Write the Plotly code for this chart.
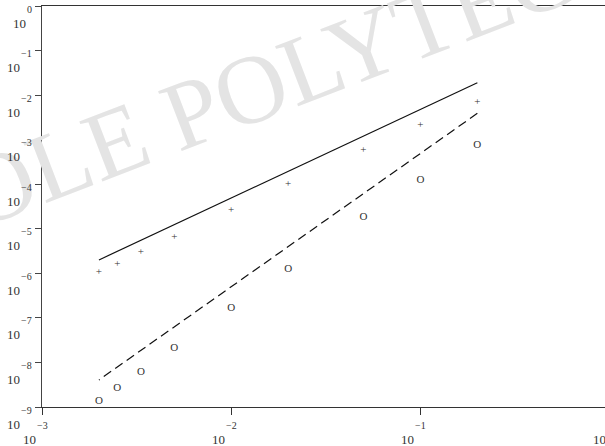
import plotly.graph_objects as go

# ---- data ----
h = [0.002, 0.0025, 1/300, 0.005, 0.01, 0.02, 0.05, 0.1, 0.2]
err_plus = [1.06e-6, 1.6e-6, 2.97e-6, 6.5e-6, 2.64e-5, 9.97e-5, 5.78e-4, 2.13e-3, 6.9e-3]
err_circ = [1.35e-9, 2.67e-9, 6.0e-9, 2.08e-8, 1.64e-7, 1.23e-6, 1.81e-5, 1.23e-4, 7.48e-4]
ref2_x = [0.002, 0.2]
ref2_y = [2.0e-6, 1.9e-2]
ref3_x = [0.2, 0.002]
ref3_y = [3.9e-3, 4.05e-9]
x_exponents = [-3, -2, -1, 0]
y_exponents = [0, -1, -2, -3, -4, -5, -6, -7, -8, -9]
watermark = "ECOLE POLYTECHNIQUE"

W, H = 605, 446
ML, MR, MT, MB = 42, 0, 6, 39
PW = W - ML - MR
PH = H - MT - MB
XDEC = 189.2
xmin = -3
xmax = xmin + PW / XDEC
ymin, ymax = -9, 0

SERIF = "'Liberation Serif', 'Times New Roman', Times, serif"
TXT = "#333333"

def sup(k):
    return ("\u2212" + str(-k)) if k < 0 else str(k)

fig = go.Figure()
fig.add_trace(go.Scatter(x=ref2_x, y=ref2_y, mode="lines",
                         line=dict(color="#111111", width=1.2), hoverinfo="skip"))
fig.add_trace(go.Scatter(x=ref3_x, y=ref3_y, mode="lines",
                         line=dict(color="#111111", width=1.2, dash="9px,5px"), hoverinfo="skip"))
fig.add_trace(go.Scatter(x=h, y=err_plus, mode="text", text=["+"] * len(h),
                         textposition="middle center",
                         textfont=dict(family=SERIF, size=11, color=TXT), hoverinfo="skip"))
fig.add_trace(go.Scatter(x=h, y=err_circ, mode="text", text=["O"] * len(h),
                         textposition="middle center",
                         textfont=dict(family=SERIF, size=11, color=TXT), hoverinfo="skip"))

ann = []
ann.append(dict(text=watermark, xref="paper", yref="paper",
                x=(384 - ML) / PW, y=(H - MB - 38) / PH, xanchor="center", yanchor="middle",
                showarrow=False, textangle=-21,
                font=dict(family=SERIF, size=98, color="#e4e4e4")))

EXP_FS, BASE_FS = 10, 13
def expw(k):
    return 5.0 if k >= 0 else 10.6

for k in y_exponents:
    yp = (k - ymin) / (ymax - ymin)
    ann.append(dict(text=sup(k), xref="paper", yref="paper", x=0, y=yp,
                    xanchor="right", yanchor="middle", xshift=-8, yshift=-3,
                    showarrow=False, font=dict(family=SERIF, size=EXP_FS, color=TXT)))
    ann.append(dict(text="10", xref="paper", yref="paper", x=0, y=yp,
                    xanchor="right", yanchor="middle", xshift=-8 - expw(k) - 1, yshift=-17,
                    showarrow=False, font=dict(family=SERIF, size=BASE_FS, color=TXT)))

for k in x_exponents:
    xp = (k - xmin) / (xmax - xmin)
    ann.append(dict(text=sup(k), xref="paper", yref="paper", x=xp, y=0,
                    xanchor="center", yanchor="middle", yshift=-18,
                    showarrow=False, font=dict(family=SERIF, size=EXP_FS, color=TXT)))
    ann.append(dict(text="10", xref="paper", yref="paper", x=xp, y=0,
                    xanchor="right", yanchor="middle", xshift=-expw(k) / 2 + 1, yshift=-32,
                    showarrow=False, font=dict(family=SERIF, size=BASE_FS, color=TXT)))

fig.update_layout(
    width=W, height=H,
    margin=dict(l=ML, r=MR, t=MT, b=MB, pad=0),
    paper_bgcolor="white", plot_bgcolor="white",
    showlegend=False,
    font=dict(family=SERIF),
    annotations=ann,
    xaxis=dict(type="log", range=[xmin, xmax], showgrid=False, zeroline=False,
               showline=True, linecolor="#333333", linewidth=1.4, mirror=True,
               tickmode="array", tickvals=[10.0 ** k for k in x_exponents],
               ticks="outside", ticklen=7, tickwidth=1.3, tickcolor="#333333",
               showticklabels=False),
    yaxis=dict(type="log", range=[ymin, ymax], showgrid=False, zeroline=False,
               showline=True, linecolor="#444444", linewidth=1.4, mirror=False,
               tickmode="array", tickvals=[10.0 ** k for k in y_exponents],
               ticks="outside", ticklen=6, tickwidth=1.3, tickcolor="#444444",
               showticklabels=False),
)

fig.write_html("out.html", config={"displayModeBar": False},
               post_script="document.body.style.margin='0';document.body.style.overflow='hidden';")
